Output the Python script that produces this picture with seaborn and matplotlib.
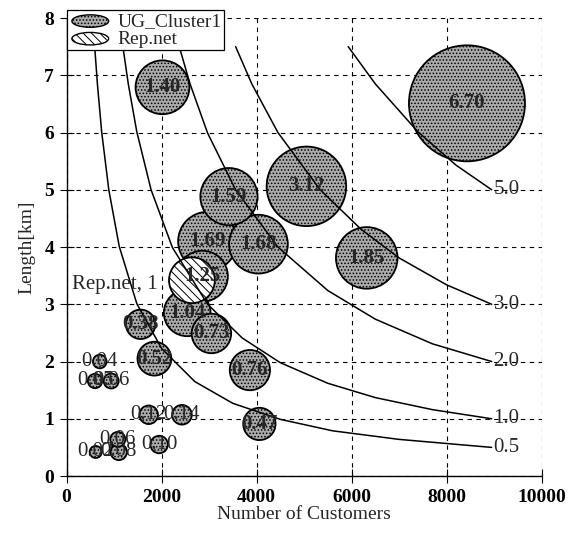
import matplotlib
matplotlib.use("Agg")
import matplotlib.pyplot as plt
import pandas as pd
import seaborn as sns
from matplotlib.path import Path
from matplotlib.transforms import Affine2D

# UG_Cluster1 bubbles: customers, length [km], bubble size
ug_customers = [8430, 5050, 6320, 2970, 4040, 3420, 2020, 2860, 2540, 3050,
                1560, 1850, 3860, 4060, 700, 600, 940, 1730, 2430, 1950,
                1080, 614, 1100]
ug_length = [6.51, 5.06, 3.81, 4.10, 4.05, 4.88, 6.79, 3.49, 2.85, 2.49,
             2.65, 2.05, 1.85, 0.91, 2.00, 1.66, 1.66, 1.07, 1.07, 0.55,
             0.64, 0.42, 0.42]
ug_size = [6.70, 3.12, 1.85, 1.69, 1.68, 1.59, 1.40, 1.25, 1.04, 0.73,
           0.38, 0.52, 0.76, 0.47, 0.04, 0.05, 0.06, 0.12, 0.14, 0.10,
           0.06, 0.02, 0.08]

# Rep.net reference bubble
rep_customers = [2640]
rep_length = [3.42]
rep_size = [1.0]

# iso-curves
curve_labels = ["0.5", "1.0", "2.0", "3.0", "5.0"]
curve_05_x = [593, 650, 740, 890, 1110, 1480, 2000, 2700, 3500, 4500, 5600, 7000, 8950]
curve_05_y = [7.50, 6.85, 6.01, 5.00, 4.01, 3.01, 2.23, 1.65, 1.27, 0.99, 0.79, 0.64, 0.50]
curve_10_x = [1190, 1300, 1480, 1780, 2230, 2970, 3700, 4500, 5500, 6500, 7700, 8950]
curve_10_y = [7.48, 6.85, 6.01, 5.00, 3.99, 3.00, 2.41, 1.98, 1.62, 1.37, 1.16, 1.00]
curve_20_x = [2380, 2600, 2970, 3560, 4450, 5500, 6500, 7700, 8950]
curve_20_y = [7.48, 6.85, 5.99, 5.00, 4.00, 3.24, 2.74, 2.31, 2.00]
curve_30_x = [3560, 3900, 4450, 5340, 6200, 7000, 8000, 8950]
curve_30_y = [7.50, 6.85, 6.00, 5.00, 4.31, 3.81, 3.34, 3.00]
curve_50_x = [5930, 6500, 7400, 8200, 8950]
curve_50_y = [7.50, 6.85, 6.01, 5.43, 5.00]

sns.set_theme(style="white")
plt.rcParams["font.family"] = ["Liberation Serif", "DejaVu Serif"]
plt.rcParams["hatch.linewidth"] = 0.7

fig = plt.figure(figsize=(5.82, 5.41), dpi=100)
ax = fig.add_axes([0.1143, 0.1201, 0.8162, 0.8466])

ug = pd.DataFrame({"customers": ug_customers, "length": ug_length, "size": ug_size})
ug = ug.sort_values("size", ascending=False)
rep = pd.DataFrame({"customers": rep_customers, "length": rep_length, "size": rep_size})

# bubble area ~ size; the 6.70 bubble has a ~58 px radius
s_max = (2 * 58 * 0.72) ** 2
s_min = 55
sns.scatterplot(data=ug, x="customers", y="length", size="size",
                sizes=(s_min, s_max), size_norm=(0, 6.70), legend=False,
                color="#ababab", edgecolor="black", linewidth=1.3,
                hatch=".....", alpha=1, ax=ax, zorder=3)
sns.scatterplot(data=rep, x="customers", y="length", size="size",
                sizes=(s_min, s_max), size_norm=(0, 6.70), legend=False,
                color="white", edgecolor="black", linewidth=1.3,
                hatch="\\\\\\\\", alpha=1, ax=ax, zorder=4)

curves_x = [curve_05_x, curve_10_x, curve_20_x, curve_30_x, curve_50_x]
curves_y = [curve_05_y, curve_10_y, curve_20_y, curve_30_y, curve_50_y]
for cx, cy, lab in zip(curves_x, curves_y, curve_labels):
    sns.lineplot(x=cx, y=cy, sort=False, estimator=None, color="black",
                 linewidth=1.1, ax=ax, zorder=5)
    ax.text(cx[-1] + 40, cy[-1], lab, ha="left", va="center", fontsize=15, zorder=6)

for _, r in ug.iterrows():
    ax.text(r["customers"], r["length"], f"{r['size']:.2f}", ha="center",
            va="center", fontsize=15, zorder=7,
            fontweight="bold" if r["size"] >= 0.3 else "normal")
ax.text(rep_customers[0] - 730, rep_length[0] - 0.08, f"Rep.net, {rep_size[0]:g}",
        ha="right", va="center", fontsize=15, zorder=7)

ax.set_xlim(0, 10000)
ax.set_ylim(0, 8)
ax.set_xticks(range(0, 10001, 2000))
ax.set_yticks(range(0, 9))
ax.grid(True, color="black", linestyle=(0, (4, 4)), linewidth=0.8)
ax.set_axisbelow(True)
for side in ["top", "right"]:
    ax.spines[side].set_visible(False)
for side in ["left", "bottom"]:
    ax.spines[side].set_color("black")
    ax.spines[side].set_linewidth(1.0)
ax.tick_params(direction="inout", length=10, width=0.8, colors="black",
               labelsize=14, left=True, bottom=True, pad=4)
for t in ax.get_xticklabels() + ax.get_yticklabels():
    t.set_fontweight("bold")
ax.set_xlabel("Number of Customers", fontsize=14, labelpad=0)
ax.set_ylabel("Length[km]", fontsize=14, labelpad=6)

# legend with flattened elliptical markers
ellipse = Path.unit_circle().transformed(Affine2D().scale(1.0, 0.34))
h_ug = ax.scatter([], [], marker=ellipse, s=700, facecolor="#ababab",
                  edgecolor="black", linewidth=1.0, hatch=".....")
h_rep = ax.scatter([], [], marker=ellipse, s=700, facecolor="white",
                   edgecolor="black", linewidth=1.0, hatch="\\\\\\\\")
leg = ax.legend([h_ug, h_rep], ["UG_Cluster1", "Rep.net"], loc="upper left",
                bbox_to_anchor=(0.0, 1.017), borderaxespad=0, fancybox=False,
                framealpha=1, edgecolor="black", fontsize=14, handletextpad=0.3,
                labelspacing=0.0, borderpad=0.12, scatterpoints=1, handlelength=2.2)
leg.get_frame().set_linewidth(0.9)
leg.set_zorder(10)

fig.savefig("out.png", dpi=100)
